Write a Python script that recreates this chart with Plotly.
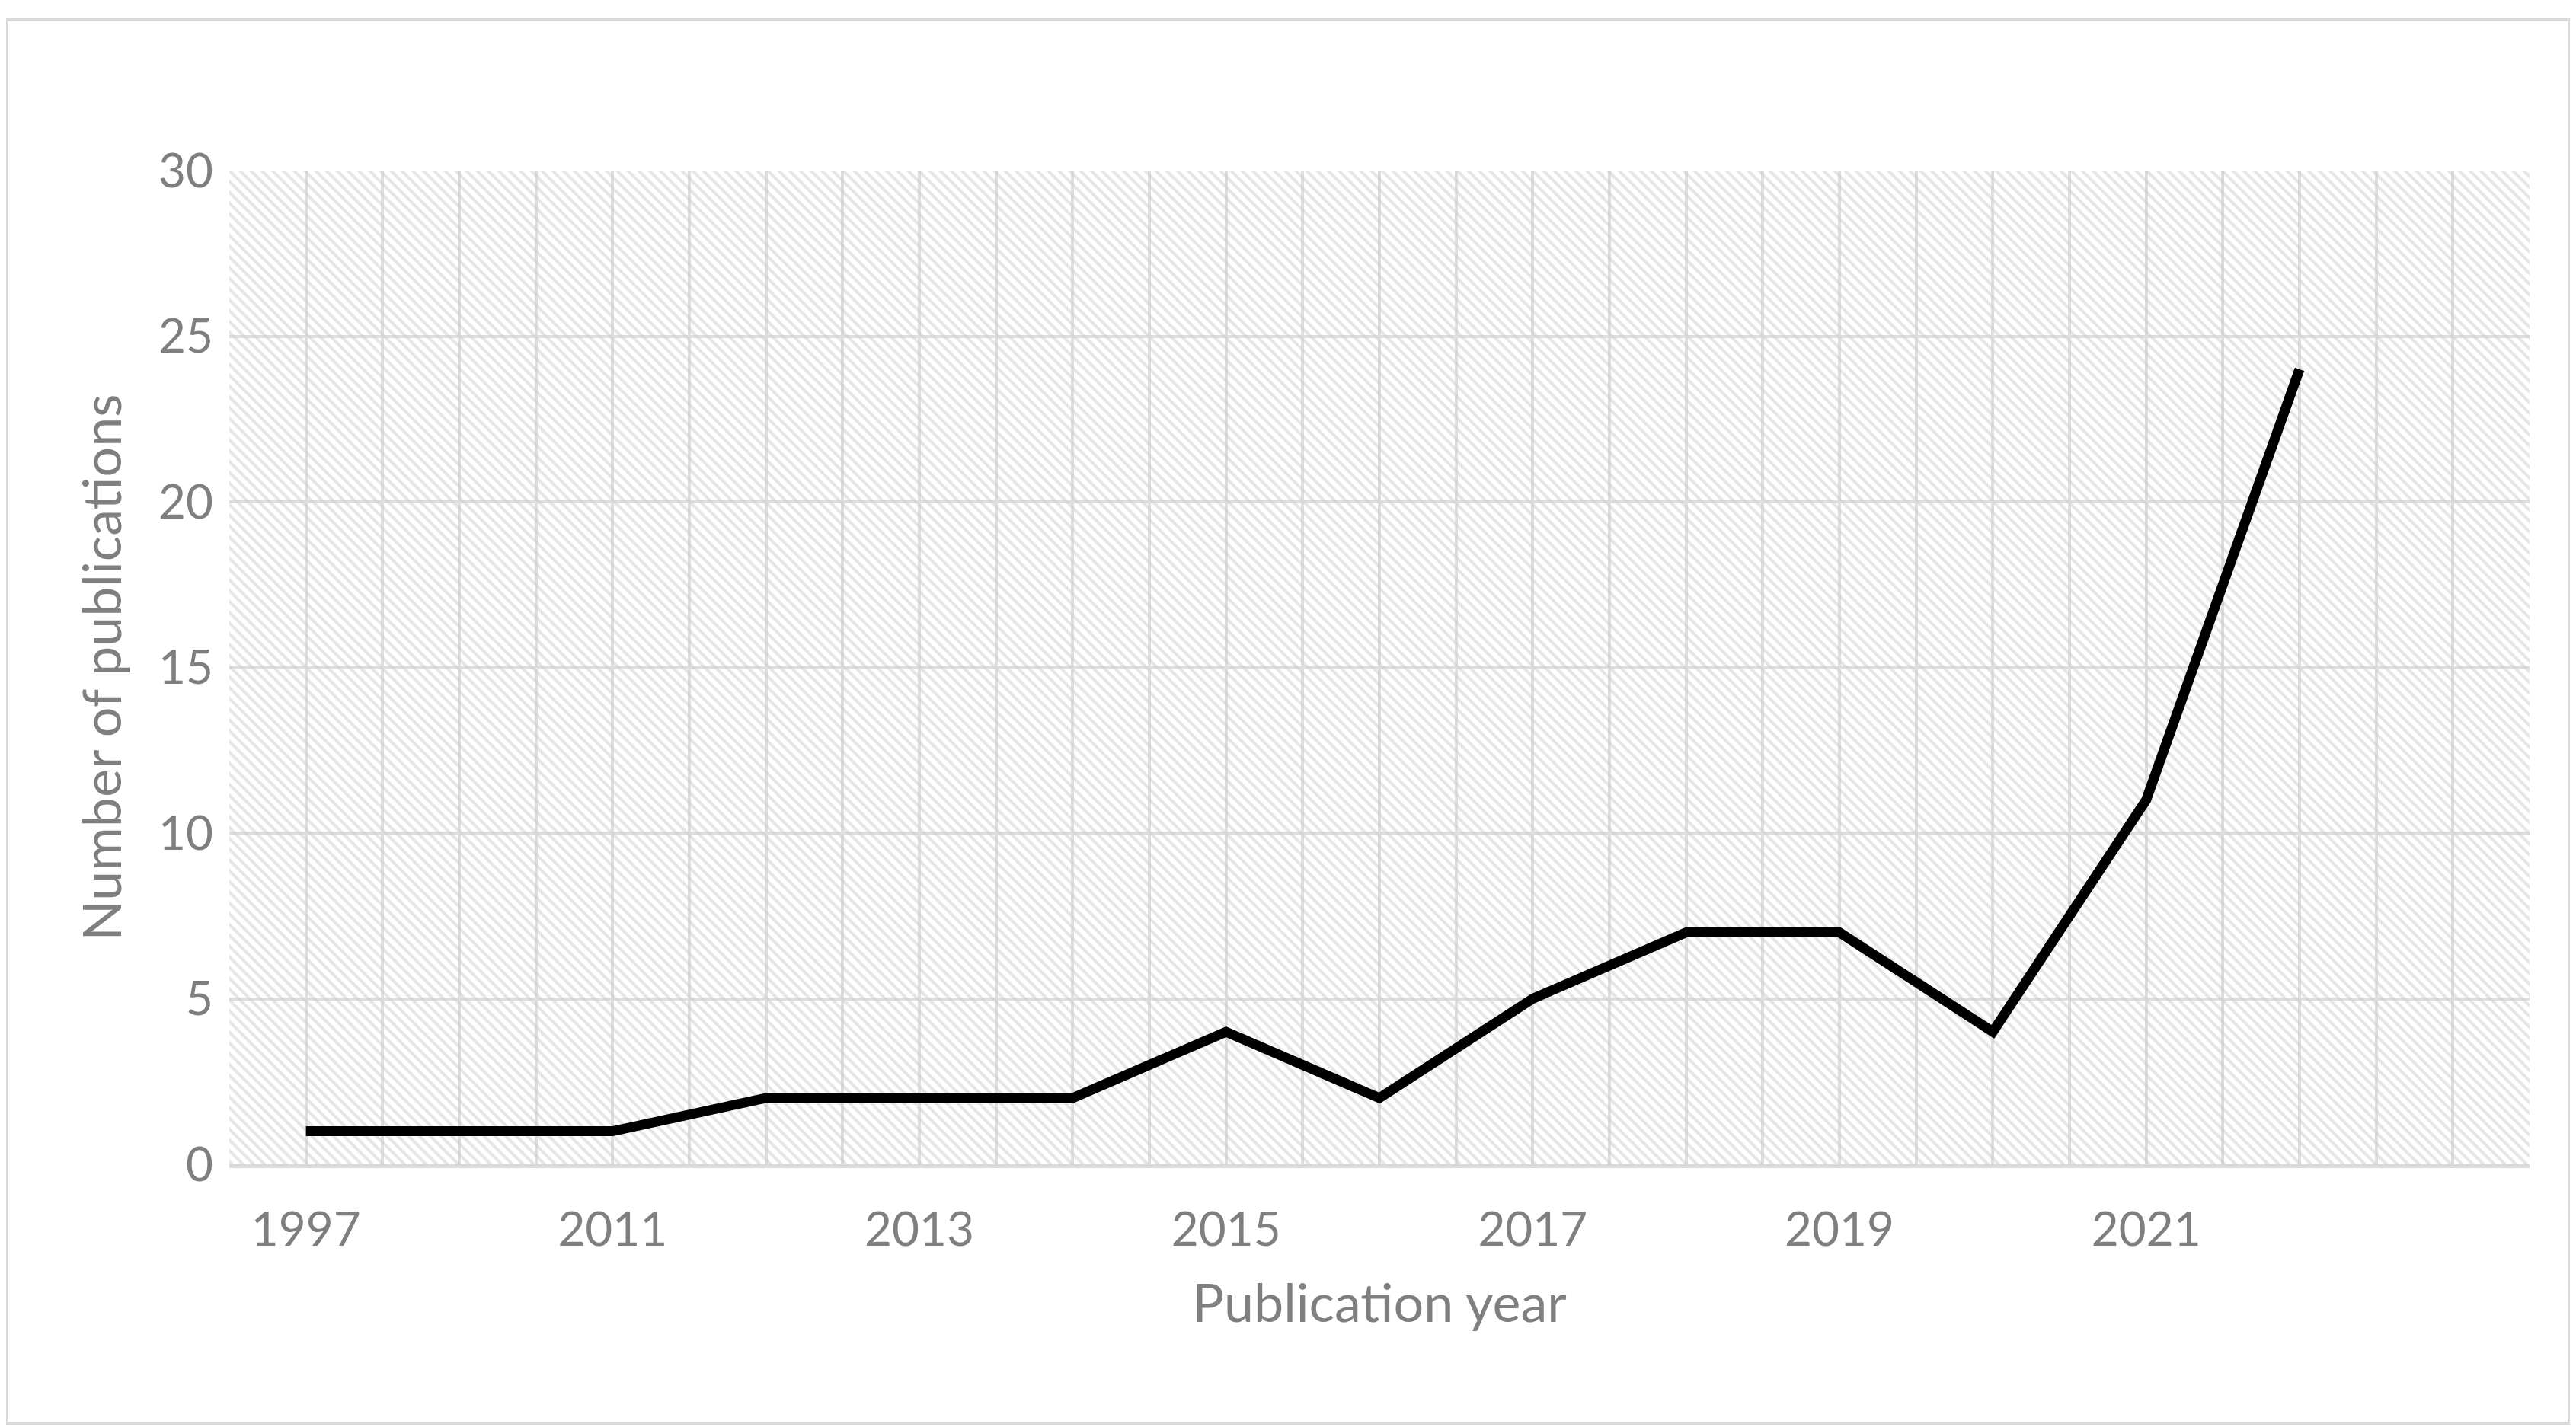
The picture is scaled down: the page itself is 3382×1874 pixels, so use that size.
import plotly.graph_objects as go

years = ["1997", "2010", "2011", "2012", "2013", "2014", "2015", "2016",
         "2017", "2018", "2019", "2020", "2021", "2022"]
counts = [1, 1, 1, 2, 2, 2, 4, 2, 5, 7, 7, 4, 11, 24]
n_slots = 15  # one empty category slot at the right

xs = list(range(len(years)))
fig = go.Figure()
# hatched plot background
fig.add_trace(go.Bar(x=[(n_slots - 1) / 2], y=[30], width=[n_slots],
                     marker=dict(color="rgba(0,0,0,0)", line=dict(width=0),
                                 pattern=dict(shape="\\", fgcolor="#cccccc",
                                              bgcolor="rgba(0,0,0,0)", size=10, solidity=0.4)),
                     hoverinfo="skip", showlegend=False))
fig.add_trace(go.Scatter(x=xs, y=counts, mode="lines",
                         line=dict(color="black", width=13), showlegend=False))

font = dict(family="Lato", color="#7f7f7f")
fig.update_layout(
    width=3382, height=1874, paper_bgcolor="white", plot_bgcolor="white",
    margin=dict(l=293, r=69, t=216, b=353),
    font=font, bargap=0,
    xaxis=dict(range=[-0.5, n_slots - 0.5], tickvals=xs[::2], ticktext=years[::2],
               tickfont=dict(size=62, **font), showgrid=False, zeroline=False,
               showline=True, linecolor="#d9d9d9", linewidth=5, ticks="",
               ticklabelstandoff=28,
               minor=dict(dtick=0.5, tick0=-0.5, showgrid=True, gridcolor="#dedede", gridwidth=4),
               title=dict(text="Publication year", font=dict(size=70, **font), standoff=40)),
    yaxis=dict(range=[0, 30], dtick=5, tickfont=dict(size=62, **font),
               gridcolor="#dedede", gridwidth=4, zeroline=False, ticks="", ticklen=0,
               ticklabelstandoff=20,
               title=dict(text="Number of publications", font=dict(size=70, **font), standoff=25)),
    shapes=[dict(type="rect", xref="paper", yref="paper", x0=-293/3020, x1=1 + 52/3020,
                 y0=-340/1305, y1=1 + 198/1305, line=dict(color="#d9d9d9", width=4))],
)
fig.write_html("out.html")
